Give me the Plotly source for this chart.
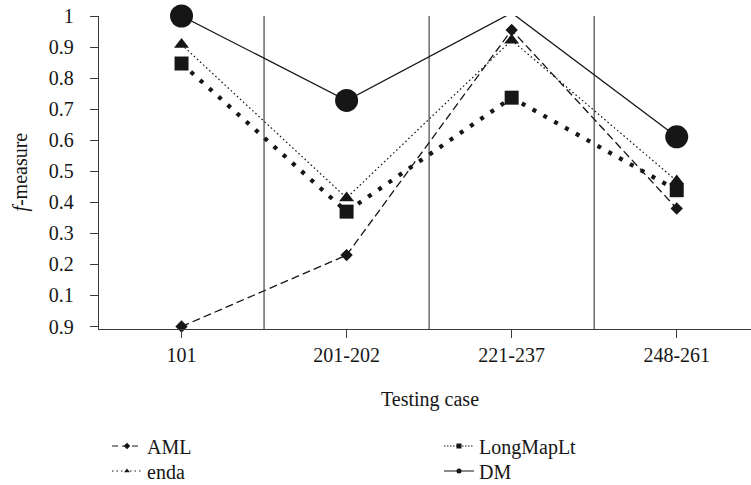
import plotly.graph_objects as go

# ---- data ----
categories = ["101", "201-202", "221-237", "248-261"]
aml = [0.0, 0.23, 0.955, 0.38]
enda = [0.908, 0.414, 0.922, 0.469]
longmaplt = [0.847, 0.37, 0.737, 0.439]
dm = [1.0, 0.728, 1.01, 0.611]

y_tick_vals = [0, 0.1, 0.2, 0.3, 0.4, 0.5, 0.6, 0.7, 0.8, 0.9, 1.0]
y_tick_text = ["0.9", "0.1", "0.2", "0.3", "0.4", "0.5", "0.6", "0.7", "0.8", "0.9", "1"]
separators = [0.5, 1.5, 2.5]

FONT = "Liberation Serif"
FS = 20
INK = "#161616"
AXIS = "#3a3a3a"

series = [
    # name, values, dash, width, symbol, size
    ("LongMapLt", longmaplt, "4px,8.4px", 4.2, "square", 14),
    ("enda", enda, "1.6px,2.6px", 1.2, "triangle-up", 13),
    ("AML", aml, "8px,4px", 1.3, "diamond", 9.5),
    ("DM", dm, "solid", 1.3, "circle", 23),
]

fig = go.Figure()
for name, vals, dash, w, sym, sz in series:
    fig.add_trace(go.Scatter(
        x=categories, y=vals, mode="lines+markers", name=name,
        line=dict(color=INK, width=w, dash=dash),
        marker=dict(symbol=sym, size=sz, color=INK, line=dict(width=0)),
        cliponaxis=False, showlegend=False,
    ))

# legend entries (small symbols as in the reference), one legend per entry
legend_items = [
    ("AML", "6px,4px", "diamond", "legend"),
    ("LongMapLt", "1.5px,1.5px", "square", "legend2"),
    ("enda", "1.5px,3px", "triangle-up", "legend3"),
    ("DM", "solid", "circle", "legend4"),
]
for name, dash, sym, lg in legend_items:
    fig.add_trace(go.Scatter(
        x=[None], y=[None], mode="lines+markers", name=name,
        line=dict(color=INK, width=1.2, dash=dash),
        marker=dict(symbol=sym, size=5, color=INK),
        showlegend=True, legend=lg,
    ))

for s in separators:
    fig.add_shape(type="line", xref="x", yref="paper", x0=s, x1=s, y0=0, y1=1,
                  line=dict(color="#555555", width=1.3), layer="below")

fig.add_annotation(text="<i>f</i>-measure", xref="paper", yref="paper",
                   x=-0.121, y=0.5, xanchor="center", yanchor="middle",
                   textangle=-90, showarrow=False,
                   font=dict(family=FONT, size=FS, color=INK))
fig.add_annotation(text="Testing case", xref="paper", yref="paper",
                   x=0.508, y=-0.2268, xanchor="center", yanchor="middle",
                   showarrow=False, font=dict(family=FONT, size=FS, color=INK))

legend_style = dict(
    orientation="v", yanchor="middle", xanchor="left",
    font=dict(family=FONT, size=FS, color=INK),
    itemwidth=30, tracegroupgap=0, bgcolor="rgba(0,0,0,0)",
)
col1_x = (107 - 99) / 652
col2_x = (439 - 99) / 652
row1_y = (329 - 446) / 313
row2_y = (329 - 471) / 313

fig.update_layout(
    width=751, height=485, autosize=False,
    margin=dict(l=99, r=0, t=16, b=156, pad=0, autoexpand=False),
    plot_bgcolor="white", paper_bgcolor="white",
    font=dict(family=FONT, size=FS, color=INK),
    xaxis=dict(
        type="category", range=[-0.5, 3.45],
        showline=True, linecolor=AXIS, linewidth=1.3,
        ticks="outside", ticklen=8, tickcolor=AXIS, tickwidth=1.2,
        ticklabelstandoff=0,
        showgrid=False, zeroline=False,
        tickfont=dict(family=FONT, size=FS, color=INK),
    ),
    yaxis=dict(
        range=[-0.008, 1.0],
        tickvals=y_tick_vals, ticktext=y_tick_text,
        showline=True, linecolor=AXIS, linewidth=1.3,
        ticks="outside", ticklen=8, tickcolor=AXIS, tickwidth=1.2,
        ticklabelstandoff=12,
        showgrid=False, zeroline=False,
        tickfont=dict(family=FONT, size=FS, color=INK),
    ),
    legend=dict(x=col1_x, y=row1_y, **legend_style),
    legend2=dict(x=col2_x, y=row1_y, **legend_style),
    legend3=dict(x=col1_x, y=row2_y, **legend_style),
    legend4=dict(x=col2_x, y=row2_y, **legend_style),
)

# remove the page's default 8px body margin so the figure fills the window exactly
fig.write_html("out.html", config={"displayModeBar": False},
               post_script="document.body.style.margin='0';")
